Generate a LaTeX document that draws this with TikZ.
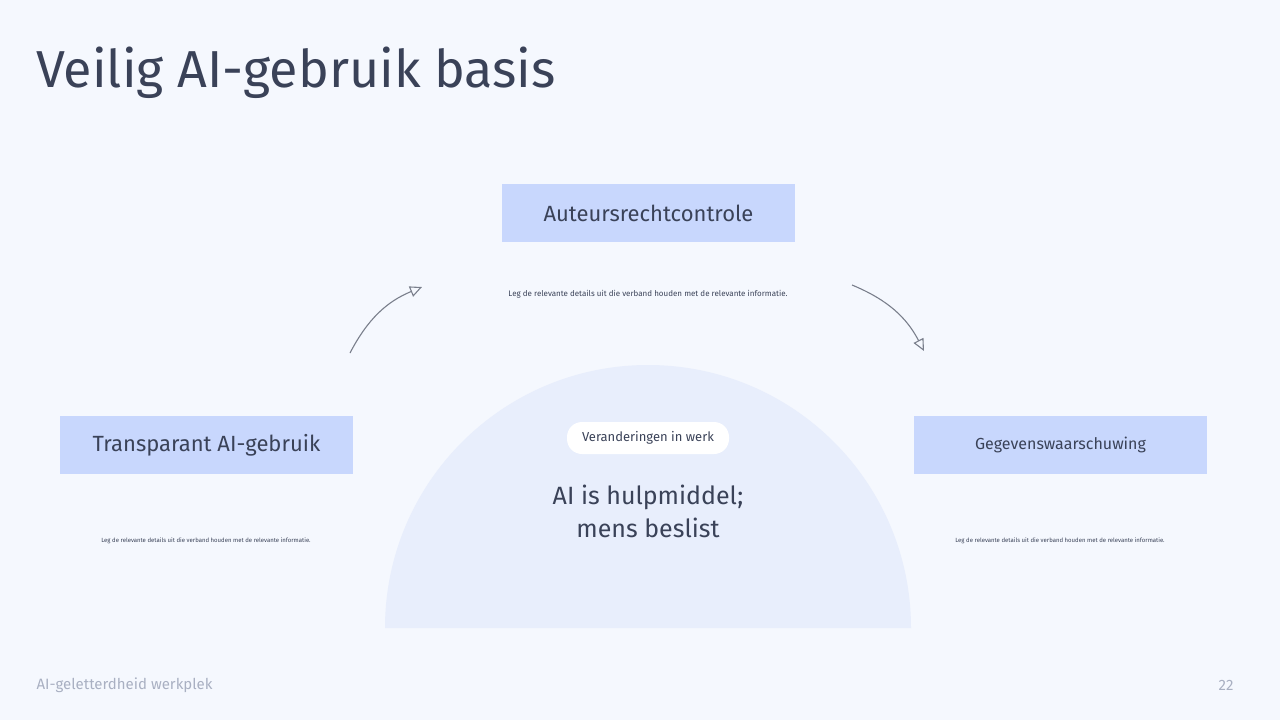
\documentclass[tikz,border=0pt]{standalone}
\usepackage{fontspec}
\setmainfont{Fira Sans}
\usetikzlibrary{arrows.meta}
\definecolor{bg}{HTML}{F5F8FE}
\definecolor{semi}{HTML}{E8EEFC}
\definecolor{boxc}{HTML}{C8D7FD}
\definecolor{ink}{HTML}{3A4258}
\definecolor{foot}{HTML}{A9B0C2}
\definecolor{arr}{HTML}{7A7F8C}
\tikzset{
 card/.style={fill=boxc,minimum width=293pt,minimum height=58pt,inner sep=0,text=ink},
 small/.style={text=ink,font=\fontsize{6}{7}\selectfont},
 conn/.style={draw=arr,line width=1.1pt,-{Triangle[open,length=12pt,width=11pt]}}
}
\begin{document}
\begin{tikzpicture}[x=1pt,y=-1pt]
\fill[bg] (0,0) rectangle (1280,720);
\useasboundingbox (0,0) rectangle (1280,720);
\fill[semi] (385,628) arc[start angle=180,end angle=360,radius=263] -- cycle;
\node[anchor=west,text=ink,font=\fontsize{52}{62}\selectfont,inner sep=0] (title) at (36,73) {Veilig AI-gebruik basis};
\node[card,font=\fontsize{22}{26}\selectfont] (top) at (648.5,213) {Auteursrechtcontrole};
\node[card,font=\fontsize{22}{26}\selectfont] (left) at (206.5,445) {Transparant AI-gebruik};
\node[card,font=\fontsize{16}{20}\selectfont] (right) at (1060.5,445) {Gegevenswaarschuwing};
\node[small,font=\fontsize{8}{10}\selectfont] (ttop) at (648,294) {Leg de relevante details uit die verband houden met de relevante informatie.};
\node[small] (tleft) at (206,541) {Leg de relevante details uit die verband houden met de relevante informatie.};
\node[small] (tright) at (1060,541) {Leg de relevante details uit die verband houden met de relevante informatie.};
\node[fill=white,rounded corners=15pt,minimum width=162pt,minimum height=32pt,text=ink,font=\fontsize{13}{16}\selectfont] (pill) at (648,438) {Veranderingen in werk};
\node[align=center,text=ink,font=\fontsize{25}{33}\selectfont] (main) at (648,511) {AI is hulpmiddel;\\ mens beslist};
\coordinate (a1) at (350,353); \coordinate (a2) at (422,287);
\coordinate (b1) at (852,285); \coordinate (b2) at (924,351);
\draw[conn] (a1) to[bend left=20] (a2);
\draw[conn] (b1) to[bend left=20] (b2);
\node[anchor=west,text=foot,font=\fontsize{15}{18}\selectfont] (ft) at (33,685) {AI-geletterdheid werkplek};
\node[anchor=east,text=foot,font=\fontsize{15}{18}\selectfont] (pg) at (1237,685) {22};
\end{tikzpicture}
\end{document}
